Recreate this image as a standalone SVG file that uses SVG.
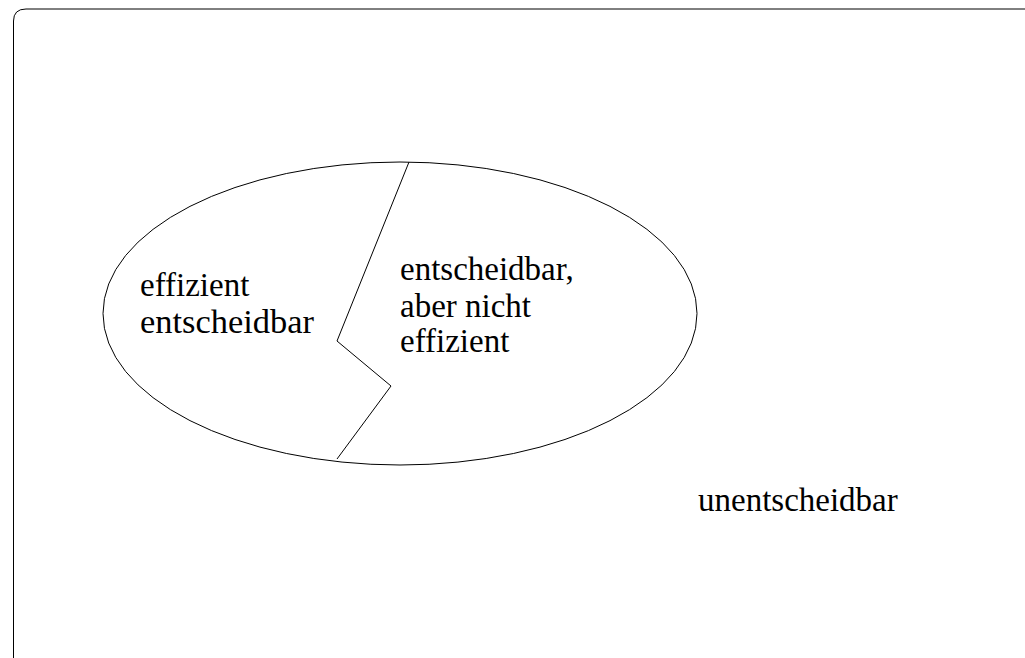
<svg xmlns="http://www.w3.org/2000/svg" width="1025" height="658" viewBox="0 0 1025 658">
<style>
text{font-family:"Liberation Serif","Times New Roman",serif;font-size:33px;fill:#000}
.s{fill:none;stroke:#000;stroke-width:1}
</style>
<rect width="1025" height="658" fill="#fff"/>
<g id="universe">
<path class="s" d="M13.5,700 V21 Q13.5,9 26,9 H1100"/>
<text x="698" y="511">unentscheidbar</text>
</g>
<g id="decidable">
<ellipse class="s" cx="400" cy="313.5" rx="297" ry="151.5"/>
</g>
<g id="connectors">
<polyline class="s" points="409,162 337,341 391,386 337,459"/>
</g>
<g id="efficient">
<text x="140" y="296">effizient</text>
<text x="140" y="333" textLength="174" lengthAdjust="spacingAndGlyphs">entscheidbar</text>
</g>
<g id="notefficient">
<text x="400" y="280">entscheidbar,</text>
<text x="400" y="316.5">aber nicht</text>
<text x="400" y="352">effizient</text>
</g>
</svg>
